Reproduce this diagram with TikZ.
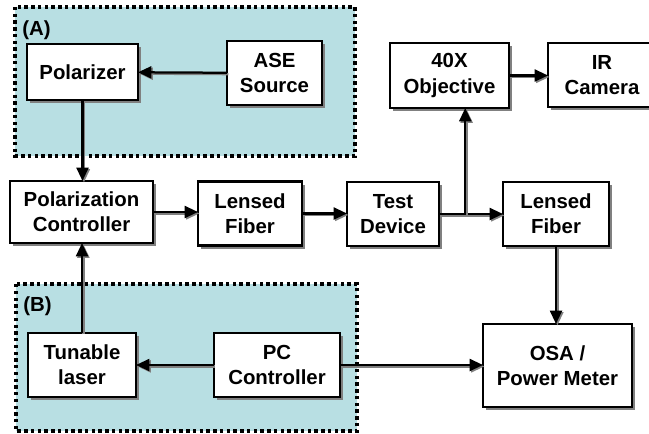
\documentclass[tikz,border=0pt]{standalone}
\usepackage{fontspec}
\setmainfont{Liberation Sans}
\usepackage{tikz}
\usetikzlibrary{arrows.meta,positioning,shadows,calc}
\definecolor{RegionBlue}{RGB}{184,223,227}

\begin{document}
\begin{tikzpicture}[x=0.025cm, y=-0.025cm,
                    >={Triangle[length=9.5pt,width=8.5pt]},
                    every node/.append style={font=\bfseries\fontsize{14.5}{17.8}\selectfont},
                    blk/.style={draw, fill=white, line width=1.6pt, align=center,
                                inner sep=0pt, outer sep=0pt, minimum height=1.6cm,
                                drop shadow={shadow xshift=2.2pt, shadow yshift=-2.2pt, fill=gray, opacity=1}},
                    link/.style={->, line width=1.6pt,
                                 preaction={draw=gray, line width=1.6pt, transform canvas={xshift=1pt,yshift=-1pt}}},
                    region/.style={fill=RegionBlue, line width=2.4pt, dash pattern=on 2.4pt off 2.4pt},
                    tag/.style={anchor=west, inner sep=0pt}
                    ]
\useasboundingbox (0,0) rectangle (649,433);

% the two shaded groups
\draw[region] (15,7) rectangle (355,156);
\draw[region] (16,284) rectangle (357,431);
\node[tag] (tagA) at (22,30)  {(A)};
\node[tag] (tagB) at (23,306) {(B)};

\node[blk, minimum width=2.775cm, minimum height=1.4cm] (pol) at (82.5,72)    {Polarizer};
\node[blk, minimum width=2.375cm]                       (ase) at (274.5,73)   {ASE\\Source};
\node[blk, minimum width=3.575cm, minimum height=1.55cm] (pc) at (81.5,212)   {Polarization\\Controller};
\node[blk, minimum width=2.6cm]                         (lf1) at (250,213.5)  {Lensed\\Fiber};
\node[blk, minimum width=2.3cm]                         (td)  at (393,214)    {Test\\Device};
\node[blk, minimum width=2.65cm]                        (lf2) at (556,214)    {Lensed\\Fiber};
\node[blk, minimum width=2.975cm, minimum height=1.625cm] (obj) at (449.5,75.5) {40X\\Objective};
\node[blk, minimum width=2.7cm]                         (cam) at (602,75)     {IR\\Camera};
\node[blk, minimum width=2.7cm]                         (tl)  at (82,365)     {Tunable\\laser};
\node[blk, minimum width=3.15cm]                        (pcc) at (277,365)    {PC\\Controller};
\node[blk, minimum width=3.725cm, minimum height=2.075cm] (osa) at (557.5,365.5) {OSA /\\Power Meter};

\coordinate (tap) at ($(td.east)!0.41!(td.east -| lf2.west)$);

\draw[link] (ase) -- (pol);
\draw[link] (pol.south) -- (pol.south |- pc.north);
\draw[link] (tl.north) -- (tl.north |- pc.south);
\draw[link] (pc.east) -- (pc.east -| lf1.west);
\draw[link] (lf1.east) -- (lf1.east -| td.west);
\draw[link] (td.east) -- (td.east -| lf2.west);
\draw[link] (tap) -- (tap |- obj.south);
\draw[link] (obj.east) -- (obj.east -| cam.west);
\draw[link] (lf2.south) -- (lf2.south |- osa.north);
\draw[link] (pcc.west) -- (pcc.west -| tl.east);
\draw[link] (pcc.east) -- (pcc.east -| osa.west);
\end{tikzpicture}
\end{document}
